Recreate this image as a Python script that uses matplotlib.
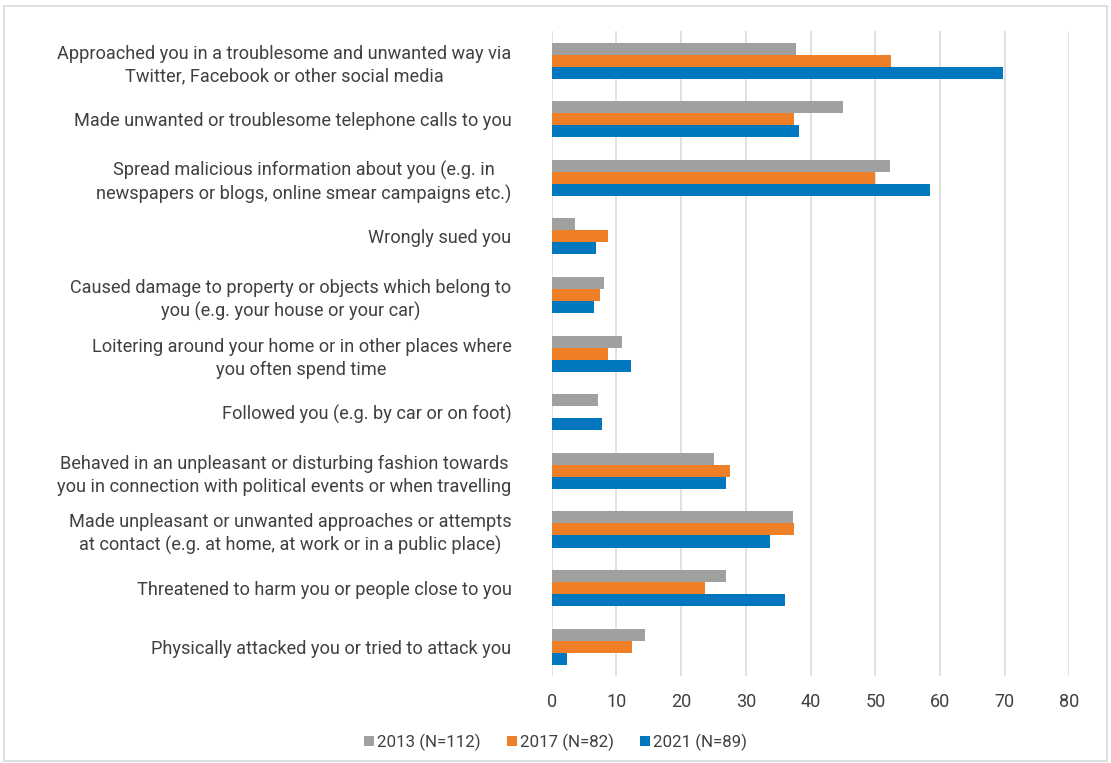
import numpy as np
import matplotlib
matplotlib.use("Agg")
import matplotlib.pyplot as plt
import matplotlib.patches as patches

plt.rcParams['font.family'] = ['Roboto', 'DejaVu Sans']

# categories, top to bottom
categories = [
    "Approached you in a troublesome and unwanted way via\nTwitter, Facebook or other social media",
    "Made unwanted or troublesome telephone calls to you",
    "Spread malicious information about you (e.g. in\nnewspapers or blogs, online smear campaigns etc.)",
    "Wrongly sued you",
    "Caused damage to property or objects which belong to\nyou (e.g. your house or your car)",
    "Loitering around your home or in other places where\nyou often spend time",
    "Followed you (e.g. by car or on foot)",
    "Behaved in an unpleasant or disturbing fashion towards\nyou in connection with political events or when travelling",
    "Made unpleasant or unwanted approaches or attempts\nat contact (e.g. at home, at work or in a public place)",
    "Threatened to harm you or people close to you",
    "Physically attacked you or tried to attack you",
]

series_names = ["2013 (N=112)", "2017 (N=82)", "2021 (N=89)"]
values_2013 = [37.8, 45.0, 52.3, 3.6, 8.1, 10.8, 7.2, 25.1, 37.3, 26.9, 14.4]
values_2017 = [52.5, 37.5, 50.0, 8.7, 7.5, 8.7, 0.0, 27.5, 37.5, 23.7, 12.4]
values_2021 = [69.8, 38.2, 58.4, 6.8, 6.6, 12.3, 7.8, 26.9, 33.7, 36.0, 2.3]
colors = ["#A0A09F", "#EF7F27", "#0077BE"]

text_color = "#404040"

fig = plt.figure(figsize=(11.11, 7.63), dpi=100)
ax = fig.add_axes([0.4966, 0.114, 0.4660, 0.845])

# light frame round the whole chart
fig.patches.append(patches.Rectangle((0.004, 0.003), 0.992, 0.989, transform=fig.transFigure,
                                     fill=False, edgecolor="#d9d9d9", lw=1.2))

y = np.arange(len(categories))
h = 0.205
for i, (vals, name, c) in enumerate(zip([values_2013, values_2017, values_2021], series_names, colors)):
    ax.barh(y + (i - 1) * h, vals, height=h, color=c, label=name, zorder=3)

ax.set_ylim(len(categories) - 0.5, -0.5)
ax.set_xlim(0, 80)
ax.set_xticks(range(0, 81, 10))
ax.set_yticks(y)
ax.set_yticklabels(categories, ma='center', linespacing=1.35)

ax.grid(axis='x', color="#d9d9d9", lw=1.1, zorder=0)
for s in ax.spines.values():
    s.set_visible(False)
ax.tick_params(axis='y', length=0, pad=29, labelsize=13.1, labelcolor=text_color)
ax.tick_params(axis='x', length=0, pad=12, labelsize=13, labelcolor=text_color)

fig.legend(loc='lower center', bbox_to_anchor=(0.5, -0.004), ncol=3, frameon=False,
           handlelength=0.6, handleheight=0.6, handletextpad=0.2, columnspacing=1.5,
           prop={'size': 12.2}, labelcolor=text_color)

fig.savefig("out.png", dpi=100)
